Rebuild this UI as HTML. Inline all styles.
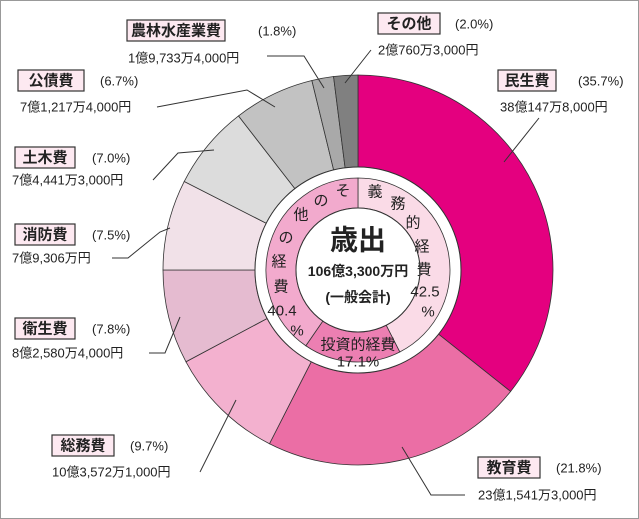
<!DOCTYPE html>
<html><head><meta charset="utf-8"><style>
body{margin:0;background:#fff}
svg{display:block;font-family:"Liberation Sans","Noto Sans CJK JP",sans-serif}
</style></head><body>
<svg id="chart" width="639" height="519" viewBox="0 0 639 519" xmlns="http://www.w3.org/2000/svg">
<rect x="0.5" y="0.5" width="638" height="518" fill="#fff" stroke="#999"/>
<g id="outer"></g>
<g id="inner"></g>
<g id="labels"></g>
</svg>
<script>
const outerCategories=["民生費","教育費","総務費","衛生費","消防費","土木費","公債費","農林水産業費","その他"];
const outerValues=[35.7,21.8,9.7,7.8,7.5,7.0,6.7,1.8,2.0];
const outerAmounts=["38億147万8,000円","23億1,541万3,000円","10億3,572万1,000円","8億2,580万4,000円","7億9,306万円","7億4,441万3,000円","7億1,217万4,000円","1億9,733万4,000円","2億760万3,000円"];
const innerCategories=["義務的経費","投資的経費","その他の経費"];
const innerValues=[42.5,17.1,40.4];

const NS="http://www.w3.org/2000/svg";
const cx=358,cy=270,R=195,R2=103,r1=92,r0=62;
const outerColors=["#e4007f","#eb6ea5","#f3b1cf","#e5bbd0","#f1e1e8","#dcdcdc","#c2c2c2","#a9a9a9","#808080"];
const innerColors=["#fadbe7","#ec7fb2","#f2aacd"];
function ang(p){return p/100*2*Math.PI;}
function pt(a,r){return [cx+r*Math.sin(a),cy-r*Math.cos(a)];}
function arc(a0,a1,ro,ri){
  const [x0,y0]=pt(a0,ro),[x1,y1]=pt(a1,ro),[x2,y2]=pt(a1,ri),[x3,y3]=pt(a0,ri);
  const L=(a1-a0)>Math.PI?1:0;
  return `M${x0},${y0}A${ro},${ro} 0 ${L} 1 ${x1},${y1}L${x2},${y2}A${ri},${ri} 0 ${L} 0 ${x3},${y3}Z`;
}
function mk(tag,attrs,parent){const e=document.createElementNS(NS,tag);for(const k in attrs)e.setAttribute(k,attrs[k]);parent.appendChild(e);return e;}
const gO=document.getElementById('outer');
let acc=0;
outerValues.forEach((v,i)=>{
  const a0=ang(acc),a1=ang(acc+v);acc+=v;
  const p=mk('path',{d:arc(a0,a1,R,R2),fill:outerColors[i],stroke:'#333','stroke-width':0.8},gO);
  
  
});
const gI=document.getElementById('inner');
const ring=mk('circle',{cx:cx,cy:cy,r:R2,fill:'#fff',stroke:'#333','stroke-width':1},gI);


acc=0;
innerValues.forEach((v,i)=>{
  const a0=ang(acc),a1=ang(acc+v);acc+=v;
  const p=mk('path',{d:arc(a0,a1,r1,r0),fill:innerColors[i],stroke:'#333','stroke-width':0.8},gI);
  
  
});
const hole=mk('circle',{cx:cx,cy:cy,r:r0,fill:'#fff',stroke:'#333','stroke-width':1},gI);


</script>
<script>
(function(){
const svg=document.getElementById('labels');
function t(x,y,s,size,opt){const e=document.createElementNS(NS,'text');e.setAttribute('x',x);e.setAttribute('y',y);e.setAttribute('font-size',size);e.setAttribute('fill','#222');e.setAttribute('dominant-baseline','central');if(opt&&opt.anchor)e.setAttribute('text-anchor',opt.anchor);if(opt&&opt.bold)e.setAttribute('font-weight','bold');e.textContent=s;svg.appendChild(e);return e;}
function line(pts){const e=document.createElementNS(NS,'polyline');e.setAttribute('points',pts);e.setAttribute('fill','none');e.setAttribute('stroke','#333');e.setAttribute('stroke-width','1');svg.appendChild(e);return e;}
// label specs: [idx, boxX, boxY, boxW, pctX, amtX, amtY, leader]
const specs=[
 [0,498,70,58,578,500,107,"539,118 504,162"],
 [1,478,457,62,556,478,495,"465,495 431,495 402,447"],
 [2,52,435,62,130,52,472,"200,472 236,400"],
 [3,15,318,60,92,12,353,"149,353 165,353 180,317"],
 [4,15,224,60,92,12,258,"112,258 128,258 160,232 170,228"],
 [5,15,147,60,92,12,180,"153,180 178,153 214,150"],
 [6,18,70,66,100,20,107,"157,107 247,90 275,107"],
 [7,127,20,98,258,128,58,"267,56 304,56 324,88"],
 [8,378,13,62,455,378,50,"371,50 345,83"]];
specs.forEach(s=>{
  const i=s[0];
  const b=document.createElementNS(NS,'rect');
  b.setAttribute('x',s[1]);b.setAttribute('y',s[2]);b.setAttribute('width',s[3]);b.setAttribute('height',21);
  b.setAttribute('fill','#fde9f1');b.setAttribute('stroke','#333');b.setAttribute('stroke-width','1.2');
  
  
  svg.appendChild(b);
  const n=t(s[1]+s[3]/2,s[2]+11,outerCategories[i],15,{anchor:'middle',bold:true});
  
  
  const p=t(s[4],s[2]+11,'('+outerValues[i].toFixed(1)+'%)',13);
  
  
  const a=t(s[5],s[6],outerAmounts[i],13);
  
  
  const l=line(s[7]);
  
  
});
// inner ring text
const innerChars=[["義",375,192],["務",398,204],["的",413,223],["経",422,247],["費",424,270],["42.5",425,292],["%",428,312],
 ["そ",343,191],["の",321,201],["他",301,215],["の",286,238],["経",279,262],["費",281,287],["40.4",282,311],["%",297,331]];
innerChars.forEach(c=>{const e=t(c[1],c[2],c[0],15,{anchor:'middle'});
  
  });
const inv=t(358,345,'投資的経費',15,{anchor:'middle'});


const invp=t(358,362,innerValues[1].toFixed(1)+'%',15,{anchor:'middle'});


const c1=t(358,240,'歳出',28,{anchor:'middle',bold:true});


const c2=t(358,271,'106億3,300万円',14,{anchor:'middle',bold:true});


const c3=t(358,297,'(一般会計)',14,{anchor:'middle',bold:true});


})();
</script>
</body></html>
